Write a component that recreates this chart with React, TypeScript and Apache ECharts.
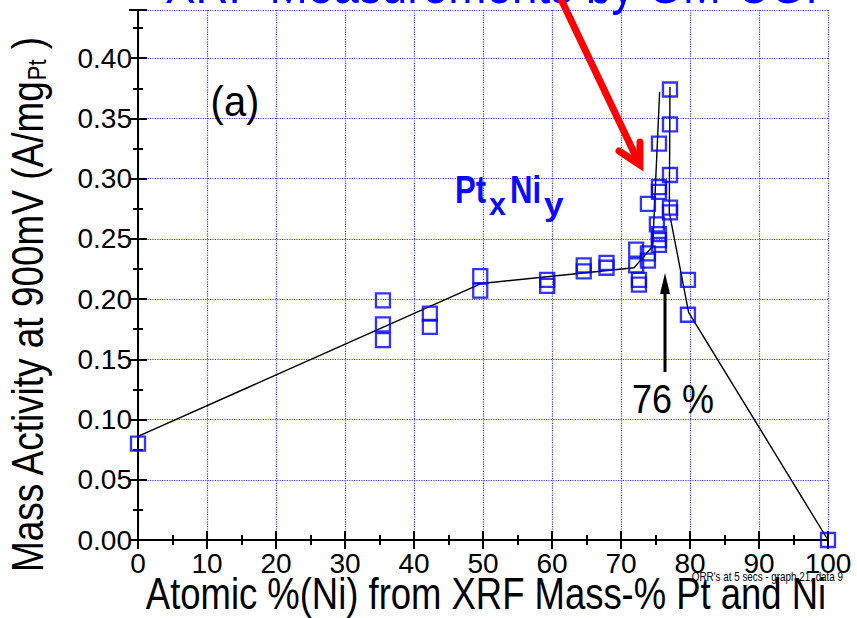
import React, { useEffect, useRef } from 'react';
import * as echarts from 'echarts';

// ---- data ----
const niPct = [0, 35.5, 35.5, 35.5, 42.3, 42.3, 49.6, 49.6, 59.3, 59.3, 64.6, 64.6, 67.9, 67.9,
  72.2, 72.2, 72.6, 72.6, 73.9, 73.9, 73.9, 75.2, 75.5, 75.5, 75.5, 75.5, 75.5, 75.5,
  77.1, 77.1, 77.1, 77.1, 77.1, 79.7, 79.7, 100];
const massActivity = [0.080, 0.199, 0.179, 0.166, 0.188, 0.177, 0.219, 0.207, 0.216, 0.211, 0.228, 0.223, 0.230, 0.226,
  0.241, 0.228, 0.216, 0.212, 0.238, 0.232, 0.279, 0.262, 0.254, 0.249, 0.245, 0.293, 0.289, 0.329,
  0.374, 0.345, 0.303, 0.276, 0.272, 0.216, 0.187, 0.0];

const riseX = [0, 49.8, 71.9, 74.6, 75.6];
const riseY = [0.086, 0.213, 0.226, 0.244, 0.372];
const fallX = [77.1, 77.0, 79.8, 100];
const fallY = [0.376, 0.272, 0.189, 0.0];

const xTicks = { min: 0, max: 100, interval: 10 };
const yTicks = { min: 0, max: 0.44, interval: 0.05 };

const FONT = "'Liberation Sans', Arial, sans-serif";
const NARROW = 0.82; // horizontal squeeze to mimic a narrow font
const GRID_BLUE = '#3a3aff';
const LABEL_BLUE = '#0a0aff';

export default function App() {
  const ref = useRef<HTMLDivElement>(null);
  useEffect(() => {
    const chart = echarts.init(ref.current!, null, { renderer: 'svg' });
    const tickCommon = {
      axisLine: { show: true, lineStyle: { color: '#000', width: 2 } },
      axisTick: { show: true, inside: true, length: 9, lineStyle: { color: '#000', width: 2 } },
      minorTick: { show: true, splitNumber: 2, length: 5, lineStyle: { color: '#000', width: 2 } },
    };
    const option: any = {
      animation: false,
      backgroundColor: '#fff',
      grid: { left: 138, right: 29, top: 10, bottom: 78, containLabel: false, outerBoundsMode: 'none' },
      xAxis: [
        {
          type: 'value', position: 'bottom', ...xTicks, ...tickCommon,
          splitLine: { show: true, lineStyle: { color: GRID_BLUE, type: 'dotted', width: 1.2 } },
          axisLabel: { color: '#000', fontSize: 28, fontFamily: FONT, margin: 9 },
        },
        {
          type: 'value', position: 'top', ...xTicks, ...tickCommon,
          splitLine: { show: false }, axisLabel: { show: false },
        },
      ],
      yAxis: [
        {
          type: 'value', position: 'left', ...yTicks, ...tickCommon,
          splitLine: { show: true, lineStyle: { color: GRID_BLUE, type: 'dotted', width: 1.2 } },
          axisLabel: {
            color: '#000', fontSize: 28, fontFamily: FONT, margin: 6, showMaxLabel: false,
            formatter: (v: number) => v.toFixed(2),
          },
        },
        {
          type: 'value', position: 'right', ...yTicks, ...tickCommon,
          splitLine: { show: false }, axisLabel: { show: false },
        },
      ],
      series: [
        {
          type: 'line', xAxisIndex: 0, yAxisIndex: 0, showSymbol: false, symbol: 'none',
          data: riseX.map((x, i) => [x, riseY[i]]),
          lineStyle: { color: '#000', width: 1.4 }, z: 2,
        },
        {
          type: 'line', xAxisIndex: 0, yAxisIndex: 0, showSymbol: false, symbol: 'none',
          data: fallX.map((x, i) => [x, fallY[i]]),
          lineStyle: { color: '#000', width: 1.4 }, z: 2,
        },
        {
          type: 'scatter', xAxisIndex: 0, yAxisIndex: 0, symbol: 'rect', symbolSize: 14,
          data: niPct.map((x, i) => [x, massActivity[i]]),
          itemStyle: { color: 'rgba(0,0,0,0)', borderColor: '#0000ff', borderWidth: 2.3 }, z: 3,
        },
      ],
      graphic: [
        {
          type: 'text', x: 165, y: -16, z: 10, scaleX: NARROW,
          style: { text: 'XRF Measurements by GM-CGI', fill: '#0000ff', font: `56px ${FONT}`, align: 'left', verticalAlign: 'middle' },
        },
        {
          type: 'text', x: 28, y: 305, rotation: Math.PI / 2, z: 10, scaleX: 0.84,
          style: {
            text: '{a|Mass Activity at 900mV (A/mg}{b|Pt}{a| )}', align: 'center', verticalAlign: 'middle',
            rich: {
              a: { fontSize: 44, fontFamily: FONT, fill: '#000', lineHeight: 44, verticalAlign: 'middle' },
              b: { fontSize: 26, fontFamily: FONT, fill: '#000', lineHeight: 16, verticalAlign: 'bottom' },
            },
          },
        },
        {
          type: 'text', x: 486, y: 594, z: 10, scaleX: 0.81,
          style: { text: 'Atomic %(Ni) from XRF Mass-% Pt and Ni', fill: '#000', font: `45px ${FONT}`, align: 'center', verticalAlign: 'middle' },
        },
        {
          type: 'text', x: 843, y: 577, z: 10, scaleX: NARROW,
          style: { text: "ORR's at 5 secs - graph 21, data 9", fill: '#000', font: `12px ${FONT}`, align: 'right', verticalAlign: 'middle' },
        },
        {
          type: 'text', x: 235, y: 102, z: 10, scaleX: 0.95,
          style: { text: '(a)', fill: '#000', font: `42px ${FONT}`, align: 'center', verticalAlign: 'middle' },
        },
        // Pt_x Ni_y label
        {
          type: 'text', x: 455, y: 190, z: 10, scaleX: NARROW,
          style: { text: 'Pt', fill: LABEL_BLUE, font: `bold 38px ${FONT}`, align: 'left', verticalAlign: 'middle' },
        },
        {
          type: 'text', x: 489, y: 204, z: 10, scaleX: 0.95,
          style: { text: 'x', fill: LABEL_BLUE, font: `bold 32px ${FONT}`, align: 'left', verticalAlign: 'middle' },
        },
        {
          type: 'text', x: 510, y: 190, z: 10, scaleX: NARROW,
          style: { text: 'Ni', fill: LABEL_BLUE, font: `bold 38px ${FONT}`, align: 'left', verticalAlign: 'middle' },
        },
        {
          type: 'text', x: 544, y: 204, z: 10, scaleX: 1.1,
          style: { text: 'y', fill: LABEL_BLUE, font: `bold 32px ${FONT}`, align: 'left', verticalAlign: 'middle' },
        },
        {
          type: 'text', x: 632, y: 399, z: 10, scaleX: 0.9,
          style: { text: '76 %', fill: '#000', font: `40px ${FONT}`, align: 'left', verticalAlign: 'middle' },
        },
        // black arrow pointing at 76 %
        { type: 'line', z: 10, shape: { x1: 665, y1: 372, x2: 665, y2: 290 }, style: { stroke: '#000', lineWidth: 3 } },
        { type: 'polygon', z: 10, shape: { points: [[665, 273], [660, 294], [670, 294]] }, style: { fill: '#000' } },
        // red arrow
        { type: 'line', z: 11, shape: { x1: 559, y1: -5, x2: 638, y2: 161 }, style: { stroke: '#ff0000', lineWidth: 7, lineCap: 'butt' } },
        {
          type: 'polyline', z: 11, shape: { points: [[619, 151], [640, 165], [640, 142]] },
          style: { stroke: '#ff0000', lineWidth: 7, fill: null, lineJoin: 'miter', lineCap: 'round' },
        },
      ],
    };
    chart.setOption(option);
    return () => chart.dispose();
  }, []);
  return <div ref={ref} style={{ width: 857, height: 618, position: 'absolute', left: 0, top: 0 }} />;
}
